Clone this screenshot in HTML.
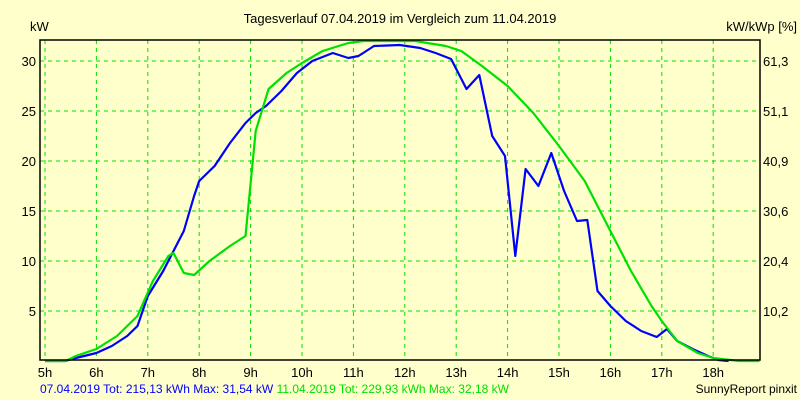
<!DOCTYPE html>
<html><head><meta charset="utf-8">
<style>
html,body{margin:0;padding:0;background:#ffffcc;}
svg{display:block;font-family:"Liberation Sans",sans-serif;}
</style></head>
<body>
<svg id="chart" width="800" height="400" xmlns="http://www.w3.org/2000/svg">
<rect x="0" y="0" width="800" height="400" fill="#ffffcc"/>
<text x="400" y="23" text-anchor="middle" font-size="13" fill="#000">Tagesverlauf 07.04.2019 im Vergleich zum 11.04.2019</text>
<text x="30" y="31" font-size="13" fill="#000">kW</text>
<text x="797" y="31" text-anchor="end" font-size="13" fill="#000">kW/kWp [%]</text>
<g id="grid"></g>
<g id="series"></g>
<rect x="40" y="40" width="720" height="320" fill="none" stroke="#000" stroke-width="1.5"/>
<g id="labels"></g>
<text x="40" y="393" font-size="12"><tspan fill="#0000ff">07.04.2019 Tot: 215,13 kWh Max: 31,54 kW </tspan><tspan fill="#00e000">11.04.2019 Tot: 229,93 kWh Max: 32,18 kW</tspan></text>
<text x="797" y="393" text-anchor="end" font-size="12" fill="#000">SunnyReport pinxit</text>
</svg>
<script>
const hourTicks=[5,6,7,8,9,10,11,12,13,14,15,16,17,18];
const kwTicks=[5,10,15,20,25,30];
const pctTicks=["10,2","20,4","30,6","40,9","51,1","61,3"];
const blueH=[5,5.4,5.6,6.0,6.3,6.6,6.8,7.0,7.3,7.5,7.7,7.9,8.0,8.3,8.6,8.9,9.1,9.3,9.6,9.9,10.2,10.6,10.9,11.1,11.4,11.9,12.3,12.6,12.9,13.2,13.45,13.7,13.95,14.15,14.35,14.6,14.85,15.1,15.35,15.55,15.75,16.0,16.3,16.6,16.9,17.1,17.3,17.6,17.9,18.1,18.3];
const blueV=[0,0,0.3,0.8,1.5,2.5,3.5,6.5,9,11,13,16.5,18,19.5,21.8,23.8,24.8,25.5,27,28.8,30,30.8,30.3,30.5,31.5,31.6,31.3,30.8,30.2,27.2,28.6,22.5,20.5,10.5,19.2,17.5,20.8,17,14,14.1,7,5.5,4,3,2.4,3.2,2,1.2,0.5,0.1,0];
const greenH=[5,5.4,5.6,6.0,6.4,6.8,7.1,7.4,7.5,7.7,7.9,8.2,8.6,8.9,9.1,9.35,9.7,10.0,10.4,10.9,11.2,11.8,12.2,12.8,13.1,13.5,14.0,14.5,15.0,15.5,16.0,16.4,16.8,17.0,17.3,17.7,18.0,18.5,18.9];
const greenV=[0,0,0.5,1.2,2.5,4.5,8,10.5,10.8,8.8,8.6,10,11.5,12.5,23,27.2,28.8,29.8,31,31.8,32.1,32.1,32,31.5,31,29.5,27.5,24.8,21.5,18,13,9,5.5,4,2,0.8,0.3,0,0];
const NS="http://www.w3.org/2000/svg";
const xS=h=>45+(h-5)*51.4;
const yS=v=>Math.max(41,361-10*v);
const grid=document.getElementById('grid'),lab=document.getElementById('labels'),ser=document.getElementById('series');
function mk(tag,attrs,parent,txt){const e=document.createElementNS(NS,tag);for(const k in attrs)e.setAttribute(k,attrs[k]);if(txt!==undefined)e.textContent=txt;parent.appendChild(e);return e;}
hourTicks.forEach(h=>{
  const l=mk('line',{x1:xS(h),x2:xS(h),y1:40,y2:360,stroke:'#00e000','stroke-dasharray':'4,4','stroke-width':1},grid);
  
  
  const t=mk('text',{x:xS(h),y:377,'text-anchor':'middle','font-size':13},lab,h+'h');
  
  
});
kwTicks.forEach((v,i)=>{
  const l=mk('line',{x1:40,x2:760,y1:yS(v),y2:yS(v),stroke:'#00e000','stroke-dasharray':'4,4','stroke-width':1},grid);
  
  
  const t=mk('text',{x:36,y:yS(v)+5,'text-anchor':'end','font-size':13},lab,String(v));
  
  
  const t2=mk('text',{x:763,y:yS(v)+5,'font-size':13},lab,pctTicks[i]);
  
  
});
function line(H,V,color,name){
  const pts=H.map((h,i)=>xS(h).toFixed(1)+','+yS(V[i]).toFixed(1)).join(' ');
  const p=mk('polyline',{points:pts,fill:'none',stroke:color,'stroke-width':2.2,'stroke-linejoin':'round'},ser);
  
  
}
line(blueH,blueV,'#0000ff','series-07-04-2019');
line(greenH,greenV,'#00e000','series-11-04-2019');
</script>
</body></html>
